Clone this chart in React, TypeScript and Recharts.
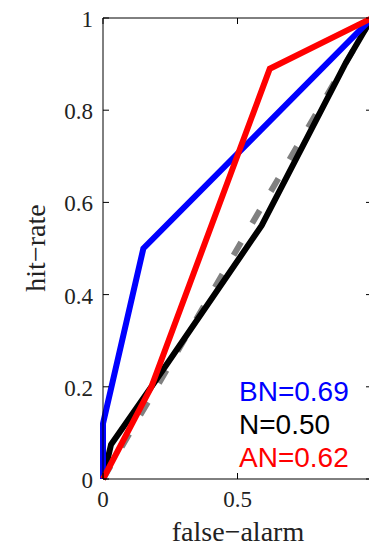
import React from "react";
import {
  LineChart,
  Line,
  XAxis,
  YAxis,
  ReferenceLine,
  Customized,
} from "recharts";

// ROC curves
const bnCurve = [
  { fa: 0, hit: 0 },
  { fa: 0, hit: 0.12 },
  { fa: 0.15, hit: 0.5 },
  { fa: 1, hit: 1 },
];
const nCurve = [
  { fa: 0, hit: 0 },
  { fa: 0.03, hit: 0.075 },
  { fa: 0.18, hit: 0.2 },
  { fa: 0.59, hit: 0.55 },
  { fa: 0.9, hit: 0.9 },
  { fa: 1, hit: 1 },
];
const anCurve = [
  { fa: 0, hit: 0 },
  { fa: 0.18, hit: 0.2 },
  { fa: 0.62, hit: 0.89 },
  { fa: 1, hit: 1 },
];
const chanceLine = [
  { fa: 0, hit: 0 },
  { fa: 1, hit: 1 },
];

const xTicks = [0, 0.5];
const yTicks = [0, 0.2, 0.4, 0.6, 0.8, 1];

const legendItems = [
  { label: "BN=0.69", color: "#0000ff" },
  { label: "N=0.50", color: "#000000" },
  { label: "AN=0.62", color: "#ff0000" },
];

const W = 372;
const H = 547;
const PLOT_LEFT = 103;
const PLOT_RIGHT = 372;
const PLOT_TOP = 18;
const PLOT_BOTTOM = 479;
const TICK = 6;
const SERIF = "'Liberation Serif', 'Times New Roman', serif";
const SANS = "'Liberation Sans', Arial, sans-serif";

const YTick = (props: any) => {
  const { y, payload } = props;
  return (
    <g>
      <line x1={PLOT_LEFT} x2={PLOT_LEFT + TICK} y1={y} y2={y} stroke="#000" />
      <line x1={PLOT_RIGHT - TICK} x2={PLOT_RIGHT} y1={y} y2={y} stroke="#000" />
      <text
        x={PLOT_LEFT - 10}
        y={y}
        dy={9}
        textAnchor="end"
        style={{ fontFamily: SERIF }}
        fontSize={23}
        fill="#222"
      >
        {String(payload.value)}
      </text>
    </g>
  );
};

const XTick = (props: any) => {
  const { x, payload } = props;
  return (
    <g>
      <line x1={x} x2={x} y1={PLOT_BOTTOM} y2={PLOT_BOTTOM - TICK} stroke="#000" />
      <line x1={x} x2={x} y1={PLOT_TOP} y2={PLOT_TOP + TICK} stroke="#000" />
      <text
        x={x}
        y={507}
        textAnchor="middle"
        style={{ fontFamily: SERIF }}
        fontSize={23}
        fill="#222"
      >
        {String(payload.value)}
      </text>
    </g>
  );
};

const XTitle = () => (
  <text x={238} y={541} textAnchor="middle" fontFamily={SERIF} fontSize={28} fill="#222">
    false−alarm
  </text>
);

const YTitle = () => (
  <text
    transform="translate(45,248) rotate(-90)"
    textAnchor="middle"
    fontFamily={SERIF}
    fontSize={28}
    fill="#222"
  >
    hit−rate
  </text>
);

const Legend = () => (
  <g>
    {legendItems.map((item, i) => (
      <text
        key={item.label}
        x={239}
        y={401 + i * 33}
        fontFamily={SANS}
        fontSize={28}
        fill={item.color}
      >
        {item.label}
      </text>
    ))}
  </g>
);

export default function App() {
  return (
    <div
      style={{
        position: "absolute",
        left: 0,
        top: 0,
        width: 369,
        height: 547,
        overflow: "hidden",
        background: "#fff",
      }}
    >
      <LineChart
        width={W}
        height={H}
        margin={{ top: PLOT_TOP, right: W - PLOT_RIGHT, bottom: 0, left: 0 }}
      >
        <XAxis
          dataKey="fa"
          type="number"
          domain={[0, 1]}
          ticks={xTicks}
          height={H - PLOT_BOTTOM}
          tick={<XTick />}
          tickLine={false}
          axisLine={{ stroke: "#000" }}
          allowDuplicatedCategory={false}
          label={<XTitle />}
        />
        <YAxis
          dataKey="hit"
          type="number"
          domain={[0, 1]}
          ticks={yTicks}
          width={PLOT_LEFT}
          tick={<YTick />}
          tickLine={false}
          axisLine={{ stroke: "#000" }}
          label={<YTitle />}
        />
        <ReferenceLine y={1} stroke="#000" />
        <ReferenceLine x={1} stroke="#000" />
        <Line
          data={chanceLine}
          dataKey="hit"
          type="linear"
          stroke="#808080"
          strokeWidth={6}
          strokeDasharray="15 22"
          dot={false}
          isAnimationActive={false}
        />
        <Line
          data={nCurve}
          dataKey="hit"
          type="linear"
          stroke="#000000"
          strokeWidth={6}
          dot={false}
          isAnimationActive={false}
        />
        <Line
          data={bnCurve}
          dataKey="hit"
          type="linear"
          stroke="#0000ff"
          strokeWidth={6}
          dot={false}
          isAnimationActive={false}
        />
        <Line
          data={anCurve}
          dataKey="hit"
          type="linear"
          stroke="#ff0000"
          strokeWidth={6}
          dot={false}
          isAnimationActive={false}
        />
        <Customized component={<Legend />} />
      </LineChart>
    </div>
  );
}
